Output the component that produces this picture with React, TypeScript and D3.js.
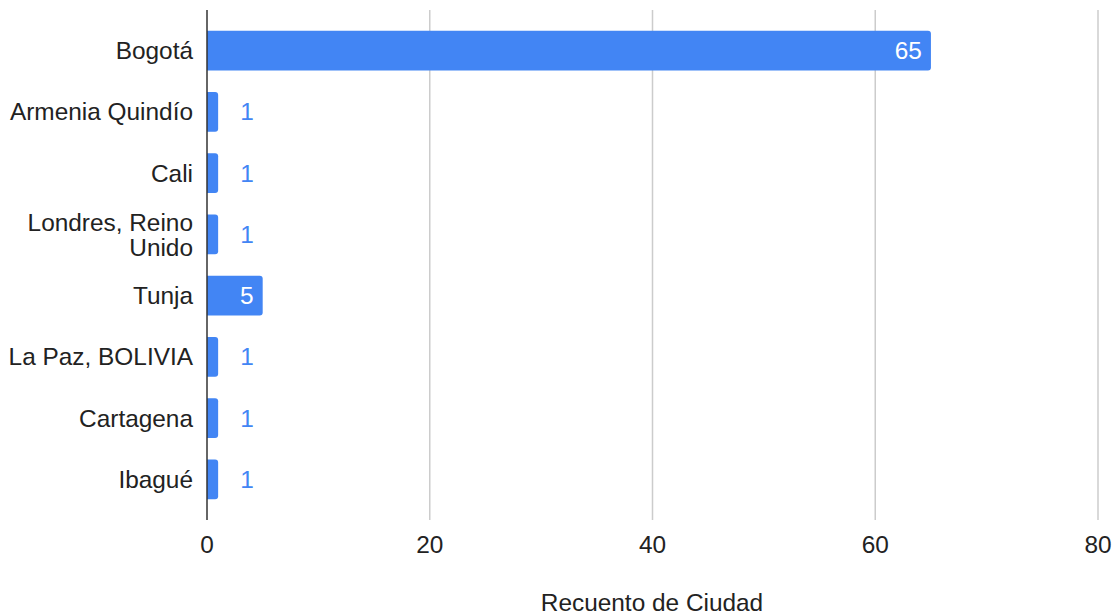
import React, { useEffect, useRef } from "react";
import * as d3 from "d3";

const cities = [
  "Bogotá",
  "Armenia Quindío",
  "Cali",
  "Londres, Reino Unido",
  "Tunja",
  "La Paz, BOLIVIA",
  "Cartagena",
  "Ibagué",
];
const counts = [65, 1, 1, 1, 5, 1, 1, 1];
const ticks = [0, 20, 40, 60, 80];
const axisTitle = "Recuento de Ciudad";

const W = 1118;
const H = 615;
const FONT = "Arial, 'Liberation Sans', sans-serif";
const FS = 24.4;

const App: React.FC = () => {
  const svgRef = useRef<SVGSVGElement | null>(null);

  useEffect(() => {
    if (!svgRef.current) return;
    const svg = d3.select(svgRef.current);
    svg.selectAll("*").remove();

    const left = 207;
    const right = 1098;
    const top = 10;
    const bottom = 520;

    const x = d3.scaleLinear().domain([0, 80]).range([left, right]);
    const y = d3
      .scaleBand<string>()
      .domain(cities)
      .range([top, bottom])
      .paddingInner(0.35)
      .paddingOuter(0.34);

    // gridlines
    svg
      .selectAll(".grid")
      .data(ticks.filter((t) => t > 0))
      .enter()
      .append("line")
      .attr("x1", (d) => x(d))
      .attr("x2", (d) => x(d))
      .attr("y1", top)
      .attr("y2", bottom)
      .attr("stroke", "#cccccc")
      .attr("stroke-width", 1.5);

    // bars: rounded right corners only
    const r = 3;
    svg
      .selectAll(".bar")
      .data(cities)
      .enter()
      .append("path")
      .attr("fill", "#4285F4")
      .attr("d", (d, i) => {
        const x0 = x(0);
        const x1 = x(counts[i]);
        const y0 = y(d)!;
        const h = y.bandwidth();
        return `M${x0},${y0}H${x1 - r}Q${x1},${y0} ${x1},${y0 + r}V${y0 + h - r}Q${x1},${y0 + h} ${x1 - r},${y0 + h}H${x0}Z`;
      });

    // axis line
    svg
      .append("line")
      .attr("x1", x(0))
      .attr("x2", x(0))
      .attr("y1", top)
      .attr("y2", bottom)
      .attr("stroke", "#333333")
      .attr("stroke-width", 1.5);

    // value labels
    svg
      .selectAll(".val")
      .data(cities)
      .enter()
      .append("text")
      .attr("font-family", FONT)
      .attr("font-size", FS)
      .attr("dominant-baseline", "central")
      .attr("y", (d) => y(d)! + y.bandwidth() / 2)
      .each(function (d, i) {
        const v = counts[i];
        const t = d3.select(this);
        if (v >= 5) {
          t.attr("x", x(v) - 9).attr("text-anchor", "end").attr("fill", "#ffffff");
        } else {
          t.attr("x", x(v) + 22).attr("text-anchor", "start").attr("fill", "#4285F4");
        }
      })
      .text((d, i) => counts[i]);

    // category labels
    const cat = svg
      .selectAll(".cat")
      .data(cities)
      .enter()
      .append("text")
      .attr("font-family", FONT)
      .attr("font-size", FS)
      .attr("fill", "#222222")
      .attr("text-anchor", "end")
      .attr("dominant-baseline", "central");
    cat.each(function (d) {
      const t = d3.select(this);
      const cy = y(d)! + y.bandwidth() / 2;
      if (d === "Londres, Reino Unido") {
        t.append("tspan").attr("x", 193).attr("y", cy - 12.5).text("Londres, Reino");
        t.append("tspan").attr("x", 193).attr("y", cy + 12.5).text("Unido");
      } else {
        t.attr("x", 193).attr("y", cy).text(d);
      }
    });

    // tick labels
    svg
      .selectAll(".tick")
      .data(ticks)
      .enter()
      .append("text")
      .attr("font-family", FONT)
      .attr("font-size", FS)
      .attr("fill", "#222222")
      .attr("text-anchor", "middle")
      .attr("x", (d) => x(d))
      .attr("y", 553)
      .text((d) => d);

    svg
      .append("text")
      .attr("font-family", FONT)
      .attr("font-size", FS)
      .attr("fill", "#222222")
      .attr("text-anchor", "middle")
      .attr("x", 652)
      .attr("y", 611)
      .text(axisTitle);
  }, []);

  return (
    <div style={{ position: "absolute", left: 0, top: 0 }}>
      <svg ref={svgRef} width={W} height={H} style={{ display: "block", background: "#fff" }} />
    </div>
  );
};

export default App;
